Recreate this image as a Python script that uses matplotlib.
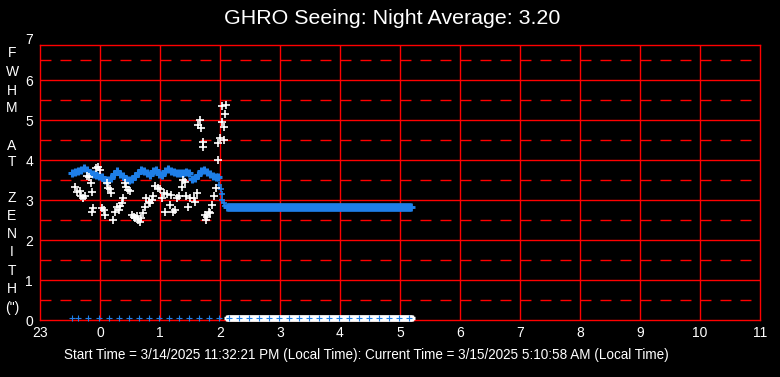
import numpy as np
import matplotlib
matplotlib.use("Agg")
import matplotlib.pyplot as plt

plt.rcParams['font.family'] = ['Liberation Sans', 'DejaVu Sans']

# ---------------- data ----------------
title = "GHRO Seeing: Night Average: 3.20"
footer = "Start Time = 3/14/2025 11:32:21 PM (Local Time): Current Time = 3/15/2025 5:10:58 AM (Local Time)"
ylabel_letters = ["F", "W", "H", "M", "A", "T", "Z", "E", "N", "I", "T", "H", '(")']
x_ticks = list(range(-1, 12))
x_tick_labels = ["23", "0", "1", "2", "3", "4", "5", "6", "7", "8", "9", "10", "11"]
y_ticks = [0, 1, 2, 3, 4, 5, 6, 7]

# individual seeing measurements (hours after midnight, arcsec)
seeing_x = [-0.42, -0.39, -0.33, -0.31, -0.28, -0.25, -0.22, -0.18, -0.15, -0.14,
            -0.11, -0.13, -0.07, -0.04, 0.00, 0.03, 0.06, 0.08, 0.11, 0.14,
            0.17, 0.19, 0.21, 0.25, 0.28, 0.31, 0.33, 0.36, 0.39, 0.42,
            0.44, 0.47, 0.50, 0.53, 0.56, 0.58, 0.61, 0.64, 0.67, 0.69,
            0.72, 0.75, 0.77, 0.81, 0.83, 0.86, 0.89, 0.92, 0.96, 1.00,
            1.03, 1.06, 1.08, 1.11, 1.16, 1.19, 1.22, 1.25, 1.28, 1.31,
            1.36, 1.39, 1.42, 1.44, 1.47, 1.50, 1.56, 1.58, 1.61, 1.64,
            1.67, 1.69, 1.71, 1.72, 1.75, 1.76, 1.78, 1.81, 1.83, 1.86,
            1.90, 1.93, 1.96, 1.97, 2.00, 2.03, 2.03, 2.06, 2.07, 2.09, 2.10]
seeing_y = [3.33, 3.21, 3.23, 3.10, 3.04, 3.10, 3.60, 3.58, 3.42, 3.19,
            2.79, 2.71, 3.79, 3.83, 3.75, 2.79, 2.75, 2.63, 3.42, 3.29,
            3.27, 3.17, 2.50, 2.71, 2.83, 2.75, 2.85, 2.93, 3.04, 3.42,
            3.33, 3.25, 3.23, 2.63, 2.58, 2.54, 2.60, 2.50, 2.46, 2.54,
            2.67, 2.83, 3.04, 2.96, 2.92, 3.00, 3.10, 3.35, 3.29, 3.27,
            3.04, 3.17, 2.71, 3.15, 2.88, 3.13, 2.71, 2.75, 3.04, 3.10,
            3.33, 3.50, 3.46, 3.10, 2.83, 3.04, 3.04, 2.96, 3.17, 4.88,
            5.00, 4.79, 4.46, 4.33, 2.63, 2.50, 2.58, 2.71, 2.68, 2.88,
            3.10, 3.29, 4.00, 4.42, 4.54, 4.96, 5.35, 4.82, 4.50, 5.15, 5.38]

# running average
avg_x = [-0.46, -0.41, -0.36, -0.31, -0.26, -0.21, -0.16, -0.11, -0.06, -0.01,
         0.04, 0.09, 0.14, 0.19, 0.24, 0.29, 0.34, 0.39, 0.44, 0.49,
         0.54, 0.59, 0.64, 0.69, 0.74, 0.79, 0.84, 0.89, 0.94, 0.99,
         1.04, 1.09, 1.14, 1.19, 1.24, 1.29, 1.34, 1.39, 1.44, 1.49,
         1.54, 1.59, 1.64, 1.69, 1.74, 1.79, 1.84, 1.89, 1.94, 1.97]
avg_y = [3.68, 3.70, 3.72, 3.76, 3.80, 3.74, 3.68, 3.65, 3.63, 3.60,
         3.58, 3.50, 3.49, 3.55, 3.64, 3.72, 3.66, 3.60, 3.53, 3.51,
         3.52, 3.60, 3.68, 3.75, 3.72, 3.67, 3.63, 3.72, 3.76, 3.66,
         3.62, 3.72, 3.77, 3.72, 3.70, 3.68, 3.68, 3.68, 3.71, 3.68,
         3.52, 3.56, 3.63, 3.72, 3.76, 3.70, 3.65, 3.59, 3.58, 3.57]
drop_x = [1.99, 2.01, 2.03, 2.04, 2.06, 2.09]
drop_y = [3.38, 3.27, 3.15, 3.00, 2.92, 2.85]
flat_start, flat_end = 2.11, 5.18
flat_avg = 2.82

# bottom markers (10-minute ticks and zero readings)
tick10_x = [-0.47, -0.36, -0.195, -0.012, 0.155, 0.322, 0.488, 0.655, 0.822, 0.988,
            1.155, 1.322, 1.488, 1.655, 1.822, 1.988, 2.155, 2.322, 2.488, 2.655,
            2.822, 2.988, 3.155, 3.322, 3.488, 3.655, 3.822, 3.988, 4.155, 4.322,
            4.488, 4.655, 4.822, 4.988, 5.155]
zero_start, zero_end = 2.11, 5.20
bottom_level = 0.06

# ---------------- figure ----------------
W, H = 780, 377
fig = plt.figure(figsize=(W / 100, H / 100), dpi=100, facecolor='black')
ax = fig.add_axes([40 / W, 57 / H, 720 / W, 275 / H])
ax.set_facecolor('black')
ax.set_xlim(-1, 11)
ax.set_ylim(0, 6.875)

red = '#ff0000'
for s in ax.spines.values():
    s.set_color(red)
    s.set_linewidth(1.0)

for yv in [1, 2, 3, 4, 5, 6]:
    ax.axhline(yv, color=red, lw=1.0, zorder=1)
for yv in [0.5, 1.5, 2.5, 3.5, 4.5, 5.5, 6.5]:
    ax.axhline(yv, color=red, lw=1.0, dashes=(7.9, 6.5), zorder=1)
for xv in range(0, 11):
    ax.axvline(xv, color=red, lw=1.0, zorder=1)

ax.set_xticks(x_ticks)
ax.set_xticklabels(x_tick_labels)
ax.set_yticks(y_ticks[:-1])
ax.set_yticklabels([str(v) for v in y_ticks[:-1]])
ax.tick_params(length=0, colors='white', labelsize=10)
ax.tick_params(axis='y', pad=5)
ax.tick_params(axis='x', pad=4)
# the "7" label sits above the frame
ax.text(-1, y_ticks[-1], str(y_ticks[-1]), color='white', fontsize=10,
        ha='right', va='center', clip_on=False,
        transform=ax.transData + matplotlib.transforms.ScaledTranslation(-5 / 72, 0, fig.dpi_scale_trans))

blue = '#1e7fe8'
# bottom zero readings
zx = np.arange(zero_start, zero_end, 1 / 60)
ax.plot(zx, np.full(len(zx), bottom_level), ls='none', marker='+', ms=4, mew=2.4,
        color='white', zorder=3, clip_on=False)
ax.plot(tick10_x, [bottom_level] * len(tick10_x), ls='none', marker='+', ms=4,
        mew=0.8, color=blue, zorder=4, clip_on=False)

# running average
ax.plot(avg_x, avg_y, ls='none', marker='+', ms=5.5, mew=2.2, color=blue, zorder=3)
ax.plot(drop_x, drop_y, ls='none', marker='+', ms=5, mew=1.2, color=blue, zorder=3)
fx = np.arange(flat_start, flat_end, 1 / 60)
ax.plot(fx, np.full(len(fx), flat_avg), ls='none', marker='+', ms=5.5, mew=2.0,
        color=blue, zorder=3)

# individual measurements
ax.plot(seeing_x, seeing_y, ls='none', marker='+', ms=5.5, mew=1.2, color='white', zorder=4)

# title, footer, y label
fig.text(392 / W, 1 - 19 / H, title, color='white', fontsize=15.4, ha='center', va='center')
fig.text(366 / W, 1 - 355 / H, footer, color='white', fontsize=9.75, ha='center', va='center')
letter_y = [53, 72, 91, 108, 146, 162, 198, 216, 234, 252, 271, 289, 308]
for ch, yy in zip(ylabel_letters, letter_y):
    fig.text(12 / W, 1 - yy / H, ch, color='white', fontsize=10, ha='center', va='center')

fig.savefig('out.png', dpi=100, facecolor='black')
